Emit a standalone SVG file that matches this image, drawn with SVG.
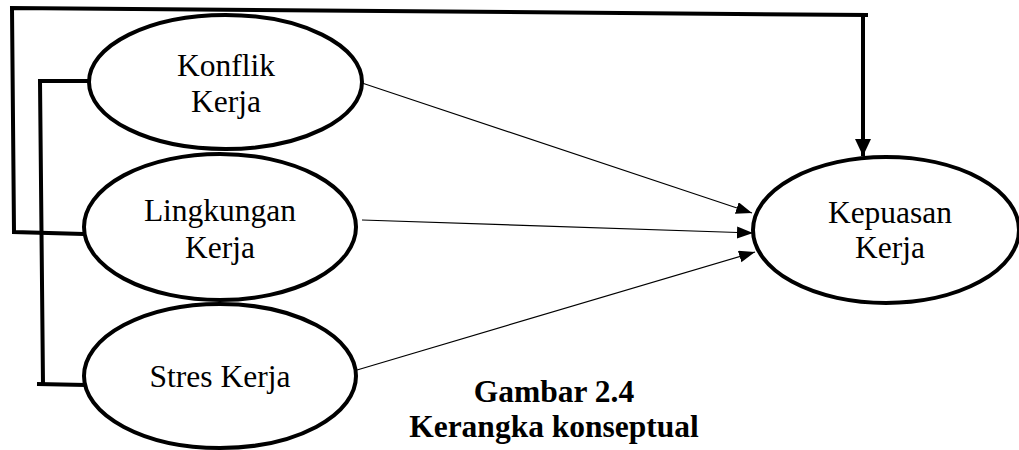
<svg xmlns="http://www.w3.org/2000/svg" width="1019" height="450" viewBox="0 0 1019 450">
  <style>
    .node ellipse { fill: #ffffff; stroke: #000000; stroke-width: 4; }
    .label { font-family: "Liberation Serif", "Times New Roman", serif; font-size: 31.5px; fill: #000000; text-anchor: middle; }
    .caption { font-family: "Liberation Serif", "Times New Roman", serif; font-size: 31.5px; font-weight: bold; fill: #000000; text-anchor: middle; }
    .thick { fill: none; stroke: #000000; stroke-width: 4; stroke-linejoin: miter; }
    .thin { fill: none; stroke: #000000; stroke-width: 1.2; }
  </style>
  <defs>
    <marker id="head" markerUnits="userSpaceOnUse" markerWidth="18" markerHeight="14" refX="16" refY="6" orient="auto">
      <path d="M0,0 L16,6 L0,12 Z" fill="#000000"/>
    </marker>
    <marker id="headBig" markerUnits="userSpaceOnUse" markerWidth="20" markerHeight="20" refX="17" refY="8" orient="auto">
      <path d="M0,0 L17,8 L0,16 Z" fill="#000000"/>
    </marker>
  </defs>

  <rect width="1019" height="450" fill="#ffffff"/>

  <!-- connectors -->
  <g id="connectors">
    <!-- outer feedback loop from Lingkungan Kerja to Kepuasan Kerja -->
    <path class="thick" d="M84,234 L14,232 L12,8 L868,15"/>
    <path class="thick" d="M863,15 L863,156" marker-end="url(#headBig)"/>
    <!-- bracket joining Konflik Kerja and Stres Kerja -->
    <path class="thick" d="M89,81 L40,81 L43,384"/>
    <path class="thick" d="M37,384 L86,385"/>
    <!-- direct paths into Kepuasan Kerja -->
    <path class="thin" d="M362,83 L752,213" marker-end="url(#head)"/>
    <path class="thin" d="M362,220 L753,233" marker-end="url(#head)"/>
    <path class="thin" d="M357,370 L755,252" marker-end="url(#head)"/>
  </g>

  <g id="konflik" class="node">
    <ellipse cx="225.5" cy="82" rx="136.5" ry="67"/>
    <text class="label" x="226" y="76">Konflik</text>
    <text class="label" x="226" y="112">Kerja</text>
  </g>

  <g id="lingkungan" class="node">
    <ellipse cx="220" cy="227" rx="136" ry="73"/>
    <text class="label" x="220" y="221">Lingkungan</text>
    <text class="label" x="220" y="258">Kerja</text>
  </g>

  <g id="stres" class="node">
    <ellipse cx="220" cy="376" rx="136" ry="72"/>
    <text class="label" x="220" y="387">Stres Kerja</text>
  </g>

  <g id="kepuasan" class="node">
    <ellipse cx="886" cy="230" rx="133" ry="73"/>
    <text class="label" x="890" y="223">Kepuasan</text>
    <text class="label" x="890" y="258">Kerja</text>
  </g>

  <g id="caption">
    <text class="caption" x="554" y="402">Gambar 2.4</text>
    <text class="caption" x="554" y="437">Kerangka konseptual</text>
  </g>
</svg>
